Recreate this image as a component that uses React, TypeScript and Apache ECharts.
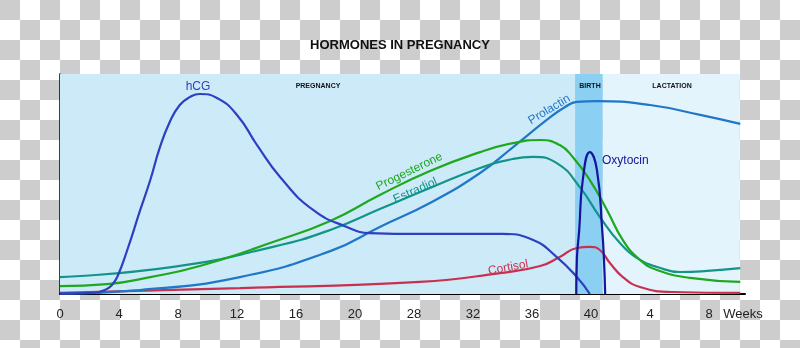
import React, { useEffect, useRef } from "react";
import * as echarts from "echarts";

// X positions are in "tick index" units (one unit per labelled tick), y in relative level 0..100
const tickLabels = ["0", "4", "8", "12", "16", "20", "28", "32", "36", "40", "4", "8"];
const axisName = "Weeks";

const hcg: number[][] = [
  [0, 0.2], [0.51, 0.5], [0.76, 1.8], [0.88, 4.1], [0.97, 7.7], [1.14, 20], [1.36, 38.2],
  [1.53, 51.8], [1.69, 66.4], [1.86, 78.2], [2.03, 85.9], [2.2, 89.5], [2.37, 90.9], [2.66, 89.1],
  [3.0, 81.4], [3.34, 67.7], [3.73, 53.2], [4.29, 38.2], [4.86, 30.5], [5.25, 27.7], [6.1, 27.3],
  [7.5, 27.3], [8.02, 24.5], [8.42, 16.8], [8.76, 7.7], [8.98, 0],
];
const progesterone: number[][] = [
  [0, 3.6], [0.8, 4.5], [1.53, 7.7], [2.37, 12.7], [3.61, 23.6], [4.58, 33.2], [5.42, 45],
  [6.27, 55.9], [7.12, 64.5], [7.68, 68.6], [8.14, 70], [8.47, 67.7], [8.69, 62.3], [8.98, 51.8],
  [9.27, 38.2], [9.54, 24.5], [9.83, 15.5], [10.12, 10.9], [10.68, 7.3], [11.53, 5.5],
];
const estradiol: number[][] = [
  [0, 7.7], [1.92, 12.3], [3.61, 21.4], [4.58, 29.1], [5.42, 38.6], [6.27, 48.2], [7.12, 57.3],
  [7.68, 61.4], [8.02, 62.3], [8.42, 59.5], [8.81, 48.6], [9.15, 35], [9.49, 23.2], [9.83, 15.5],
  [10.12, 12.3], [10.51, 10], [10.97, 10.5], [11.53, 11.8],
];
const prolactin: number[][] = [
  [0, 0.2], [1.36, 1.8], [3.05, 7.7], [4.58, 19.5], [5.42, 30.5], [6.27, 41.4], [7.12, 55],
  [7.68, 66.8], [8.25, 79.1], [8.56, 85], [8.76, 87.3], [9.1, 87.7], [10.0, 85.9], [10.85, 81.4],
  [11.53, 77.3],
];
const cortisol: number[][] = [
  [0, 0.5], [3.05, 2.7], [6.1, 5.5], [7.46, 9.5], [8.14, 12.7], [8.47, 16.8], [8.76, 20.9],
  [8.98, 21.4], [9.15, 20], [9.32, 14.1], [9.54, 7.7], [9.83, 3.2], [10.39, 0.9], [11.53, 0.5],
];
const oxytocin: number[][] = [
  [8.75, 0], [8.76, 15.5], [8.8, 29], [8.86, 51.8], [8.98, 64.5], [9.1, 56.4], [9.19, 29],
  [9.22, 15.5], [9.24, 0],
];
const phases = [
  { name: "PREGNANCY", from: 0, to: 8.73, color: "#cdeaf9" },
  { name: "BIRTH", from: 8.73, to: 9.2, color: "#8bcff3" },
  { name: "LACTATION", from: 9.2, to: 11.52, color: "#e3f4fc" },
];

export default function App() {
  const ref = useRef<HTMLDivElement>(null);
  useEffect(() => {
    if (!ref.current) return;
    const chart = echarts.init(ref.current, null, { renderer: "svg" });
    const line = (name: string, data: number[][], color: string, smooth = 0.5) => ({
      name,
      type: "line",
      data,
      smooth,
      showSymbol: false,
      symbol: "none",
      lineStyle: { color, width: 2.2 },
      silent: true,
      z: 3,
    });
    const font = "'Liberation Sans', Arial, sans-serif";
    const label = (text: string, x: number, y: number, color: string, deg = 0, size = 12, weight: any = "normal") => ({
      type: "text",
      x,
      y,
      rotation: (deg * Math.PI) / 180,
      z: 10,
      style: {
        text,
        fill: color,
        font: `${weight} ${size}px ${font}`,
        textAlign: "center",
        textVerticalAlign: "middle",
        align: "center",
        verticalAlign: "middle",
      },
    });
    chart.setOption({
      animation: false,
      backgroundColor: "transparent",
      title: {
        text: "HORMONES IN PREGNANCY",
        left: "center",
        top: 33,
        textStyle: { fontFamily: font, fontSize: 13, fontWeight: "bold", color: "#111" },
      },
      grid: { left: 60, right: 55, top: 74, bottom: 54 },
      xAxis: {
        type: "value",
        min: 0,
        max: 11.61,
        interval: 1,
        axisLine: { show: true, lineStyle: { color: "#000", width: 2 } },
        axisTick: { show: false },
        splitLine: { show: false },
        axisLabel: {
          margin: 13,
          color: "#222",
          fontSize: 13,
          fontFamily: "'Liberation Sans Narrow', 'Arial Narrow', sans-serif",
          formatter: (v: number) => {
            const i = Math.round(v);
            if (Math.abs(v - i) < 1e-6 && i < tickLabels.length) return tickLabels[i];
            return "{w|" + axisName + "}";
          },
          rich: { w: { fontFamily: font, fontSize: 13, color: "#222", padding: [0, 4, 0, 0] } },
        },
      },
      yAxis: {
        type: "value",
        min: 0,
        max: 100,
        axisLine: { show: true, lineStyle: { color: "#000", width: 1.5 } },
        axisTick: { show: false },
        axisLabel: { show: false },
        splitLine: { show: false },
      },
      series: [
        {
          type: "line",
          data: [],
          silent: true,
          z: 1,
          markArea: {
            silent: true,
            data: phases.map((p) => [
              { xAxis: p.from, yAxis: 0, itemStyle: { color: p.color } },
              { xAxis: p.to, yAxis: 100 },
            ]),
          },
        },
        line("Cortisol", cortisol, "#c9304e"),
        line("Prolactin", prolactin, "#1f77c8"),
        line("Estradiol", estradiol, "#129488"),
        line("Progesterone", progesterone, "#1ea81e"),
        line("hCG", hcg, "#2c40c2"),
        line("Oxytocin", oxytocin, "#14149c", 0.5),
      ],
      graphic: [
        label(phases[0].name, 318, 85, "#111", 0, 7, "bold"),
        label(phases[1].name, 590, 85, "#111", 0, 7, "bold"),
        label(phases[2].name, 672, 85, "#111", 0, 7, "bold"),
        label("hCG", 198, 86, "#2c40c2", 0, 12),
        label("Prolactin", 549, 109, "#1f77c8", 31, 12),
        label("Progesterone", 409, 171, "#1ea81e", 26, 12),
        label("Estradiol", 415, 190, "#129488", 24, 12),
        label("Cortisol", 508, 267, "#c9304e", 10, 12),
        {
          type: "text",
          x: 602,
          y: 160,
          z: 10,
          style: {
            text: "Oxytocin",
            fill: "#14149c",
            font: `normal 12px ${font}`,
            textAlign: "left",
            textVerticalAlign: "middle",
            verticalAlign: "middle",
          },
        },
      ],
    });
    return () => chart.dispose();
  }, []);
  return (
    <div
      style={{
        position: "fixed",
        left: 0,
        top: 0,
        width: 800,
        height: 348,
        background: "repeating-conic-gradient(#fff 0% 25%, #cdcdcd 0% 50%) 0 0 / 40px 40px",
      }}
    >
      <div ref={ref} style={{ width: 800, height: 348 }} />
    </div>
  );
}
